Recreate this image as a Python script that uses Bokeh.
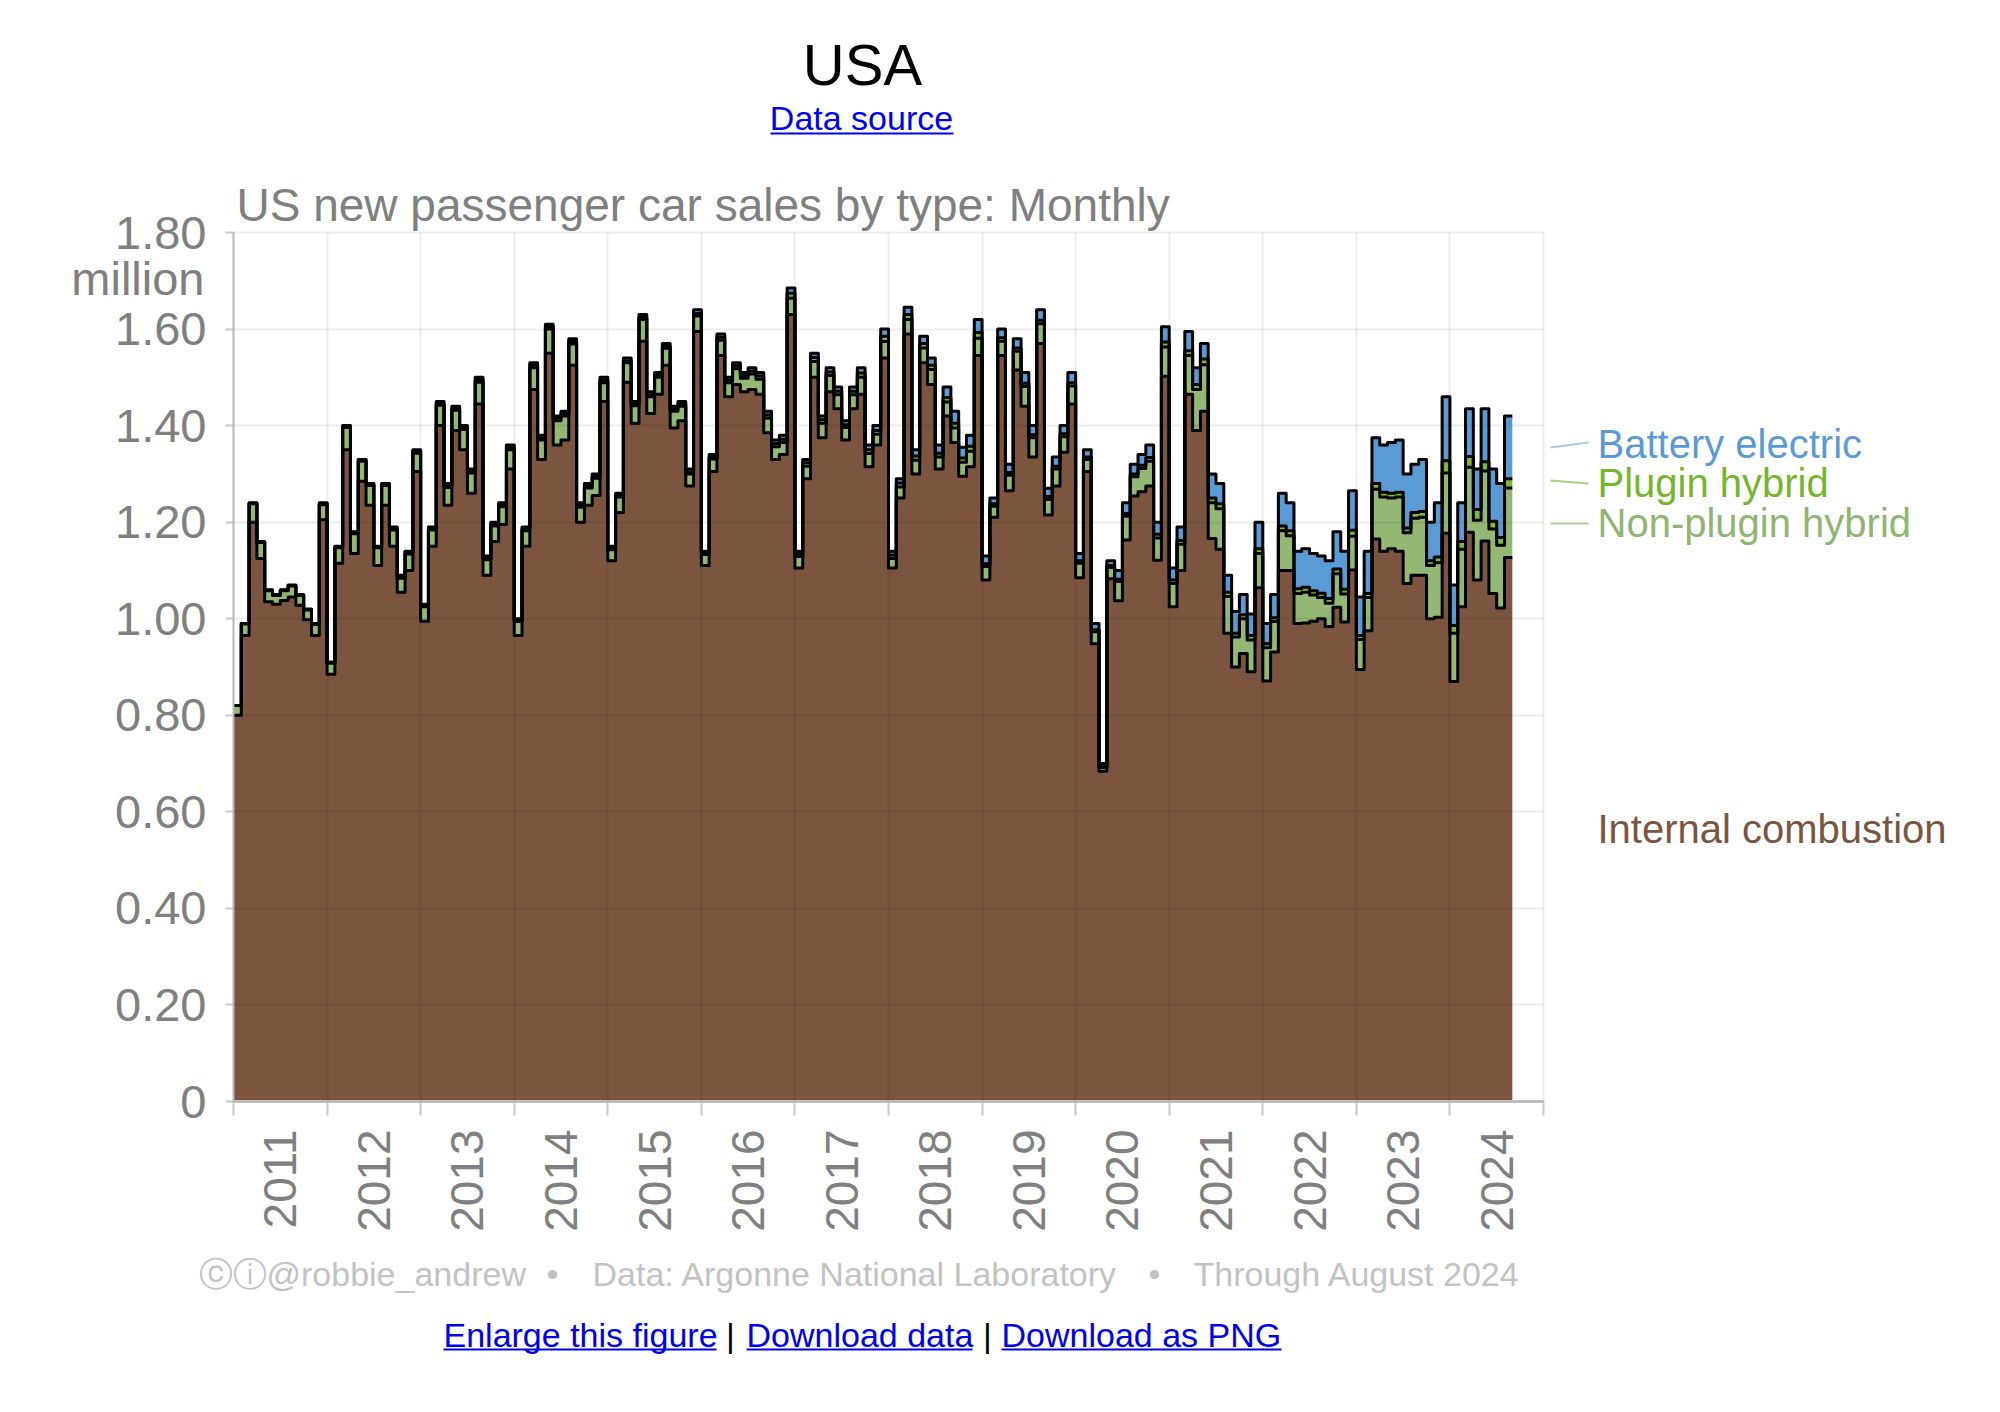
import numpy as np
from bokeh.plotting import figure
from bokeh.models import (Range1d, FixedTicker, CustomJSTickFormatter, Label, Arrow,
                          LinearAxis, Grid)
from bokeh.embed import file_html
from bokeh.resources import INLINE

# ---------------- data (million vehicles per month, Jan 2011 - Aug 2024) ----------------
start_year = 2011
end_year = 2025
year_ticks = list(range(2011, 2026))
year_labels = [str(y) for y in range(2011, 2025)]
y_ticks = [0, 0.2, 0.4, 0.6, 0.8, 1.0, 1.2, 1.4, 1.6, 1.8]

ice = [
    0.800, 0.965, 1.200, 1.125, 1.035, 1.030, 1.038, 1.045, 1.028, 0.998, 0.965, 1.205,
    0.885, 1.115, 1.350, 1.135, 1.285, 1.235, 1.110, 1.235, 1.150, 1.055, 1.100, 1.305,
    0.995, 1.150, 1.400, 1.235, 1.390, 1.350, 1.260, 1.445, 1.090, 1.160, 1.195, 1.310,
    0.965, 1.150, 1.475, 1.330, 1.550, 1.360, 1.370, 1.525, 1.200, 1.235, 1.255, 1.450,
    1.120, 1.220, 1.490, 1.405, 1.575, 1.425, 1.465, 1.525, 1.395, 1.410, 1.275, 1.595,
    1.110, 1.305, 1.545, 1.460, 1.485, 1.470, 1.475, 1.465, 1.385, 1.330, 1.340, 1.630,
    1.105, 1.290, 1.500, 1.375, 1.470, 1.435, 1.370, 1.435, 1.465, 1.315, 1.360, 1.540,
    1.105, 1.250, 1.590, 1.300, 1.530, 1.485, 1.310, 1.420, 1.365, 1.295, 1.315, 1.545,
    1.080, 1.210, 1.545, 1.265, 1.515, 1.440, 1.335, 1.570, 1.215, 1.275, 1.345, 1.445,
    1.085, 1.305, 0.948, 0.684, 1.083, 1.037, 1.163, 1.254, 1.263, 1.275, 1.121, 1.502,
    1.025, 1.100, 1.465, 1.390, 1.430, 1.166, 1.144, 0.970, 0.900, 0.928, 0.890, 1.064,
    0.871, 0.931, 1.100, 1.100, 0.990, 0.991, 0.995, 1.000, 0.984, 1.024, 0.993, 1.101,
    0.895, 0.975, 1.165, 1.140, 1.145, 1.140, 1.073, 1.090, 1.090, 1.000, 1.003, 1.177,
    0.870, 1.025, 1.179, 1.080, 1.161, 1.052, 1.022, 1.127,
]
hev = [
    0.020, 0.024, 0.038, 0.033, 0.023, 0.018, 0.020, 0.023, 0.020, 0.020, 0.023, 0.031,
    0.023, 0.032, 0.046, 0.041, 0.041, 0.041, 0.037, 0.041, 0.034, 0.029, 0.034, 0.038,
    0.030, 0.034, 0.042, 0.037, 0.042, 0.042, 0.042, 0.045, 0.032, 0.032, 0.037, 0.040,
    0.029, 0.032, 0.045, 0.040, 0.050, 0.050, 0.050, 0.044, 0.031, 0.036, 0.036, 0.039,
    0.023, 0.032, 0.040, 0.036, 0.045, 0.035, 0.035, 0.035, 0.035, 0.030, 0.025, 0.032,
    0.023, 0.026, 0.032, 0.029, 0.033, 0.028, 0.032, 0.031, 0.030, 0.026, 0.025, 0.034,
    0.024, 0.026, 0.033, 0.030, 0.034, 0.029, 0.026, 0.029, 0.035, 0.027, 0.022, 0.034,
    0.020, 0.023, 0.030, 0.028, 0.031, 0.031, 0.025, 0.029, 0.030, 0.029, 0.032, 0.036,
    0.028, 0.023, 0.030, 0.032, 0.039, 0.041, 0.040, 0.041, 0.032, 0.035, 0.032, 0.037,
    0.030, 0.025, 0.025, 0.008, 0.023, 0.040, 0.049, 0.040, 0.048, 0.051, 0.046, 0.061,
    0.048, 0.054, 0.080, 0.085, 0.096, 0.074, 0.084, 0.076, 0.062, 0.072, 0.066, 0.071,
    0.069, 0.063, 0.082, 0.072, 0.062, 0.064, 0.054, 0.044, 0.048, 0.069, 0.058, 0.070,
    0.062, 0.069, 0.103, 0.112, 0.105, 0.112, 0.105, 0.118, 0.120, 0.110, 0.113, 0.125,
    0.100, 0.119, 0.135, 0.124, 0.145, 0.134, 0.130, 0.144,
]
phev = [
    0.000, 0.001, 0.001, 0.001, 0.001, 0.001, 0.001, 0.001, 0.001, 0.001, 0.001, 0.002,
    0.002, 0.002, 0.003, 0.003, 0.003, 0.003, 0.002, 0.003, 0.004, 0.004, 0.004, 0.005,
    0.003, 0.003, 0.004, 0.004, 0.004, 0.004, 0.004, 0.005, 0.004, 0.004, 0.004, 0.005,
    0.003, 0.004, 0.005, 0.005, 0.005, 0.005, 0.005, 0.005, 0.004, 0.004, 0.004, 0.005,
    0.003, 0.003, 0.004, 0.003, 0.004, 0.004, 0.004, 0.004, 0.004, 0.004, 0.004, 0.005,
    0.003, 0.004, 0.006, 0.005, 0.006, 0.006, 0.006, 0.007, 0.007, 0.007, 0.007, 0.010,
    0.005, 0.007, 0.008, 0.007, 0.007, 0.007, 0.006, 0.007, 0.009, 0.008, 0.008, 0.011,
    0.007, 0.008, 0.010, 0.009, 0.009, 0.009, 0.008, 0.009, 0.010, 0.009, 0.010, 0.012,
    0.006, 0.005, 0.007, 0.006, 0.007, 0.007, 0.006, 0.007, 0.006, 0.006, 0.006, 0.007,
    0.005, 0.005, 0.004, 0.002, 0.004, 0.005, 0.006, 0.006, 0.007, 0.008, 0.008, 0.010,
    0.007, 0.008, 0.010, 0.010, 0.012, 0.010, 0.010, 0.009, 0.008, 0.008, 0.009, 0.010,
    0.008, 0.008, 0.010, 0.010, 0.010, 0.010, 0.009, 0.009, 0.010, 0.010, 0.010, 0.012,
    0.008, 0.008, 0.012, 0.010, 0.010, 0.010, 0.010, 0.012, 0.012, 0.010, 0.012, 0.025,
    0.016, 0.016, 0.022, 0.022, 0.019, 0.016, 0.016, 0.019,
]
bev = [
    0.000, 0.000, 0.001, 0.001, 0.001, 0.001, 0.001, 0.001, 0.001, 0.001, 0.001, 0.002,
    0.000, 0.001, 0.001, 0.001, 0.001, 0.001, 0.001, 0.001, 0.002, 0.002, 0.002, 0.002,
    0.002, 0.003, 0.004, 0.004, 0.004, 0.004, 0.004, 0.005, 0.004, 0.004, 0.004, 0.005,
    0.003, 0.004, 0.005, 0.005, 0.005, 0.005, 0.005, 0.006, 0.005, 0.005, 0.005, 0.006,
    0.004, 0.005, 0.006, 0.006, 0.006, 0.006, 0.006, 0.006, 0.006, 0.006, 0.006, 0.008,
    0.004, 0.005, 0.007, 0.006, 0.006, 0.006, 0.007, 0.007, 0.008, 0.007, 0.008, 0.011,
    0.006, 0.007, 0.009, 0.008, 0.009, 0.009, 0.008, 0.009, 0.011, 0.010, 0.010, 0.015,
    0.008, 0.009, 0.015, 0.013, 0.015, 0.015, 0.017, 0.022, 0.025, 0.022, 0.023, 0.027,
    0.016, 0.012, 0.018, 0.017, 0.019, 0.022, 0.019, 0.022, 0.017, 0.019, 0.017, 0.021,
    0.015, 0.015, 0.013, 0.006, 0.010, 0.018, 0.022, 0.020, 0.022, 0.026, 0.025, 0.032,
    0.025, 0.028, 0.040, 0.035, 0.032, 0.050, 0.042, 0.035, 0.045, 0.042, 0.045, 0.055,
    0.042, 0.048, 0.068, 0.058, 0.078, 0.080, 0.077, 0.077, 0.078, 0.077, 0.079, 0.082,
    0.080, 0.088, 0.095, 0.098, 0.105, 0.108, 0.112, 0.100, 0.108, 0.080, 0.112, 0.133,
    0.084, 0.080, 0.099, 0.084, 0.110, 0.108, 0.112, 0.130,
]

series_names = ["Internal combustion", "Non-plugin hybrid", "Plugin hybrid", "Battery electric"]
fill_colors = ["#7b5540", "#93b873", "#7aba34", "#5b9bd5"]
label_colors = ["#7b5540", "#8fb573", "#76b52e", "#5b9bd5"]
leader_colors = [None, "#b4cba4", "#a9d07f", "#a8c8e8"]

# ---------------- geometry (page pixels) ----------------
FW, FH = 1992, 1404
CX0, CW = 233, 1310       # chart left edge (2011) and width (14 years)
CY0, CH = 1101, 869       # chart baseline (0) and height (1.8 million)


def dx(px):
    return start_year + (px - CX0) / CW * (end_year - start_year)


def dy(py):
    return (CY0 - py) / CH * 1.8


n = len(ice)
x = start_year + np.arange(n + 1) / 12.0
layers = np.vstack([np.array(a, dtype=float) for a in (ice, hev, phev, bev)])
tops = np.cumsum(layers, axis=0)
bottoms = np.vstack([np.zeros(n), tops[:-1]])


def ext(a):
    return np.append(a, a[-1])


p = figure(frame_width=FW, frame_height=FH, min_border=0,
           x_range=Range1d(dx(0), dx(FW)), y_range=Range1d(dy(FH), dy(0)),
           x_axis_location=None, y_axis_location=None,
           output_backend="svg", toolbar_location=None)
p.title.visible = False
p.outline_line_color = None
p.background_fill_color = "white"
p.border_fill_color = "white"
p.xgrid.visible = False
p.ygrid.visible = False

FONT = "Liberation Sans"
GRAY = "#808080"
AX = "#c8c8c8"

# grid lines limited to the chart area
try:
    gx = Grid(dimension=0, ticker=FixedTicker(ticks=year_ticks),
              bounds=(start_year, end_year), cross_bounds=(0, 1.8))
    gy = Grid(dimension=1, ticker=FixedTicker(ticks=y_ticks),
              bounds=(0, 1.8), cross_bounds=(start_year, end_year))
    for g in (gx, gy):
        g.grid_line_color = "black"
        g.grid_line_alpha = 0.07
        g.grid_line_width = 2
        g.level = "guide"
        p.add_layout(g)
except Exception:
    p.segment(x0=year_ticks, y0=[0] * len(year_ticks), x1=year_ticks, y1=[1.8] * len(year_ticks),
              line_color="black", line_alpha=0.07, line_width=2, level="guide")
    p.segment(x0=[start_year] * len(y_ticks), y0=y_ticks, x1=[end_year] * len(y_ticks), y1=y_ticks,
              line_color="black", line_alpha=0.07, line_width=2, level="guide")

for i in range(4):
    p.varea_step(x=x, y1=ext(bottoms[i]), y2=ext(tops[i]), step_mode="after",
                 fill_color=fill_colors[i], fill_alpha=1.0)
for i in range(4):
    p.step(x=x, y=ext(tops[i]), mode="after", line_color="black", line_width=3,
           line_join="round")

# x axis: labels at mid-year, tick marks at year boundaries (minor ticks)
mids = [y + 0.5 for y in range(2011, 2025)]
xaxis = LinearAxis(fixed_location=0, bounds=(start_year, end_year))
xaxis.ticker = FixedTicker(ticks=mids, minor_ticks=year_ticks)
xaxis.major_label_overrides = {m: lab for m, lab in zip(mids, year_labels)}
xaxis.major_label_orientation = np.pi / 2
xaxis.major_tick_line_color = None
xaxis.major_tick_out = 0
xaxis.major_tick_in = 0
xaxis.minor_tick_line_color = AX
xaxis.minor_tick_line_width = 2
xaxis.minor_tick_out = 14
xaxis.minor_tick_in = 0
xaxis.axis_line_color = AX
xaxis.axis_line_width = 3
xaxis.major_label_text_font = FONT
xaxis.major_label_text_font_size = "46px"
xaxis.major_label_text_color = GRAY
xaxis.major_label_standoff = 14
p.add_layout(xaxis, "below")

yaxis = LinearAxis(fixed_location=start_year, bounds=(0, 1.8))
yaxis.ticker = FixedTicker(ticks=y_ticks)
yaxis.formatter = CustomJSTickFormatter(code="return tick === 0 ? '0' : tick.toFixed(2);")
yaxis.axis_line_color = AX
yaxis.axis_line_width = 2
yaxis.major_tick_line_color = AX
yaxis.major_tick_line_width = 2
yaxis.major_tick_out = 8
yaxis.major_tick_in = 0
yaxis.minor_tick_line_color = None
yaxis.major_label_text_font = FONT
yaxis.major_label_text_font_size = "47px"
yaxis.major_label_text_color = GRAY
yaxis.major_label_standoff = 19
p.add_layout(yaxis, "left")


def lab(text, px, py, size, color, align="left"):
    # (px, py) is the page position of the text's vertical centre
    p.add_layout(Label(x=dx(px), y=dy(py), text=text, text_font=FONT,
                       text_font_size=f"{size}px", text_color=color,
                       text_align=align, text_baseline="middle"))


def hline(x0, y0, x1, y1, color, width=2):
    p.add_layout(Arrow(end=None, x_start=dx(x0), y_start=dy(y0), x_end=dx(x1), y_end=dy(y1),
                       line_color=color, line_width=width))


LINK = "#0000ee"
lab("USA", 862, 64, 58, "black", "center")
lab("Data source", 861, 117, 34, LINK, "center")
hline(770, 133, 953, 133, LINK)
lab("US new passenger car sales by type: Monthly", 236, 204, 46, GRAY, "left")
lab("million", 204, 278, 47, GRAY, "right")

# series labels on the right
label_y = {"Battery electric": 443, "Plugin hybrid": 482, "Non-plugin hybrid": 522,
           "Internal combustion": 828}
leaders = {"Battery electric": (447, 442), "Plugin hybrid": (480, 483),
           "Non-plugin hybrid": (523, 523)}
for i, name in enumerate(series_names):
    lab(name, 1597, label_y[name], 40, label_colors[i])
    if name in leaders:
        y0, y1 = leaders[name]
        hline(1550, y0, 1588, y1, leader_colors[i], 2)

# footer
FOOT = "#c3c3c3"
lab("\u24d2\u24d8@robbie_andrew", 198, 1273, 34, FOOT)
lab("\u2022", 552, 1273, 34, FOOT, "center")
lab("Data: Argonne National Laboratory", 592, 1273, 34, FOOT)
lab("\u2022", 1154, 1273, 34, FOOT, "center")
lab("Through August 2024", 1193, 1273, 34, FOOT)

lab("Enlarge this figure", 443, 1334, 34, LINK)
hline(443, 1349, 716, 1349, LINK)
lab("|", 730, 1334, 34, "black", "center")
lab("Download data", 746, 1334, 34, LINK)
hline(746, 1349, 972, 1349, LINK)
lab("|", 987, 1334, 34, "black", "center")
lab("Download as PNG", 1001, 1334, 34, LINK)
hline(1001, 1349, 1281, 1349, LINK)

open("out.html", "w").write(file_html(p, INLINE))
